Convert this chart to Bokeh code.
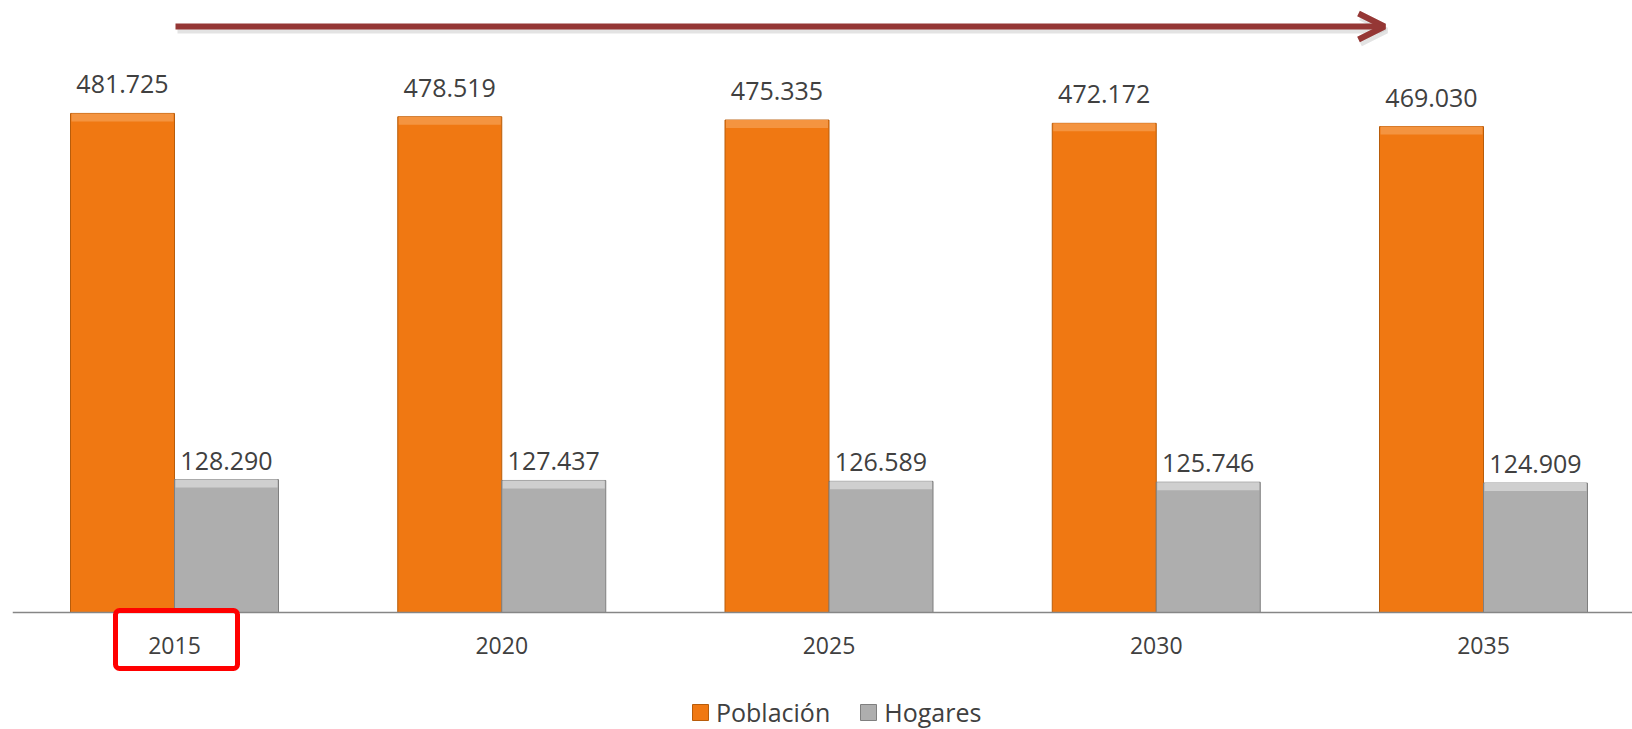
from bokeh.plotting import figure
from bokeh.models import Range1d, Span, Arrow, OpenHead, BoxAnnotation, Legend, LegendItem, ColumnDataSource
from bokeh.core.properties import value
from bokeh.embed import file_html
from bokeh.resources import INLINE

# ---- data ----
years = ["2015", "2020", "2025", "2030", "2035"]
poblacion = [481725, 478519, 475335, 472172, 469030]
hogares = [128290, 127437, 126589, 125746, 124909]
series_names = ["Población", "Hogares"]


def fmt(v):
    return f"{v:,}".replace(",", ".")


FONT_NAME = "Open Sans"
FONT = value(FONT_NAME)
TXT = "#404040"
ORANGE = "#F07812"
ORANGE_LIGHT = "#F49440"
ORANGE_EDGE = "#B85C0A"
GRAY = "#AEAEAE"
GRAY_LIGHT = "#CFCFCF"
GRAY_EDGE = "#7F7F7F"

# ---- layout geometry (page pixels -> data) ----
W, H = 1632, 729
FRAME_LEFT, FRAME_TOP = 12, 0
FRAME_W, FRAME_H = W - FRAME_LEFT, H
BASE_Y = 612            # page y of the baseline
X0, STEP = 174, 327.25  # page x of first category, category spacing
PX_Y = 1.036 / 1000     # px per person


def xd(px):
    return (px - X0) / STEP


def yd(py):
    return (BASE_Y - py) / PX_Y


p = figure(width=W, height=H, output_backend="svg", toolbar_location=None,
           x_range=Range1d(xd(FRAME_LEFT), xd(FRAME_LEFT + FRAME_W)),
           y_range=Range1d(yd(FRAME_TOP + FRAME_H), yd(FRAME_TOP)),
           min_border_left=FRAME_LEFT, min_border_right=0, min_border_top=0, min_border_bottom=0)
p.xaxis.visible = False
p.yaxis.visible = False
p.grid.visible = False
p.outline_line_color = None
p.background_fill_color = "white"

BW = 104 / STEP
idx = list(range(len(years)))
src = ColumnDataSource(dict(
    xp=[i - BW / 2 for i in idx],
    xh=[i + BW / 2 for i in idx],
    pob=poblacion,
    hog=hogares,
    pob_b=[v - 8 / PX_Y for v in poblacion],
    hog_b=[v - 8 / PX_Y for v in hogares],
    pob_lbl=[fmt(v) for v in poblacion],
    hog_lbl=[fmt(v) for v in hogares],
    xt=idx,
    yt=[0] * len(years),
    years=years,
))

r_p = p.vbar(x="xp", top="pob", bottom=0, width=BW, source=src,
             fill_color=ORANGE, line_color=ORANGE_EDGE, line_width=1)
p.vbar(x="xp", top="pob", bottom="pob_b", width=BW - 2 / STEP, source=src,
       fill_color=ORANGE_LIGHT, line_color=None)
r_h = p.vbar(x="xh", top="hog", bottom=0, width=BW, source=src,
             fill_color=GRAY, line_color=GRAY_EDGE, line_width=1)
p.vbar(x="xh", top="hog", bottom="hog_b", width=BW - 2 / STEP, source=src,
       fill_color=GRAY_LIGHT, line_color=None)

# value labels
p.text(x="xp", y="pob", text="pob_lbl", source=src, text_align="center",
       text_baseline="alphabetic", y_offset=-29, text_font=FONT,
       text_font_size="25px", text_color=TXT)
p.text(x="xh", y="hog", text="hog_lbl", source=src, text_align="center",
       text_baseline="alphabetic", y_offset=-19, text_font=FONT,
       text_font_size="25px", text_color=TXT)

# baseline + category labels
p.add_layout(Span(location=0, dimension="width", line_color="#868686", line_width=1.5))
p.text(x="xt", y="yt", text="years", source=src, text_align="center",
       text_baseline="alphabetic", y_offset=33, text_font=FONT,
       text_font_size="23px", text_color=TXT)

# highlight box around 2015
p.add_layout(BoxAnnotation(left=xd(115), right=xd(237), top=yd(610), bottom=yd(668),
                           fill_alpha=0, line_color="#FF0000", line_alpha=1, line_width=5,
                           border_radius=4))

# trend arrow (with soft shadow)
p.add_layout(Arrow(x_start=xd(177), y_start=yd(30), x_end=xd(1386), y_end=yd(30),
                   line_color="#C8C8C8", line_width=6, line_alpha=0.5,
                   end=OpenHead(size=26, line_color="#C8C8C8", line_width=6, line_alpha=0.5)))
p.add_layout(Arrow(x_start=xd(175), y_start=yd(26), x_end=xd(1384), y_end=yd(26),
                   line_color="#953735", line_width=6,
                   end=OpenHead(size=26, line_color="#953735", line_width=6)))

legend = Legend(items=[LegendItem(label=series_names[0], renderers=[r_p]),
                       LegendItem(label=series_names[1], renderers=[r_h])],
                orientation="horizontal", location=(678, 0),
                border_line_color=None, background_fill_alpha=0,
                padding=0, margin=0, spacing=28,
                glyph_width=20, glyph_height=20, label_standoff=6,
                label_height=20,
                label_text_font=FONT_NAME, label_text_font_size="25px",
                label_text_color=TXT)
p.add_layout(legend)

open("out.html", "w").write(file_html(p, INLINE))
